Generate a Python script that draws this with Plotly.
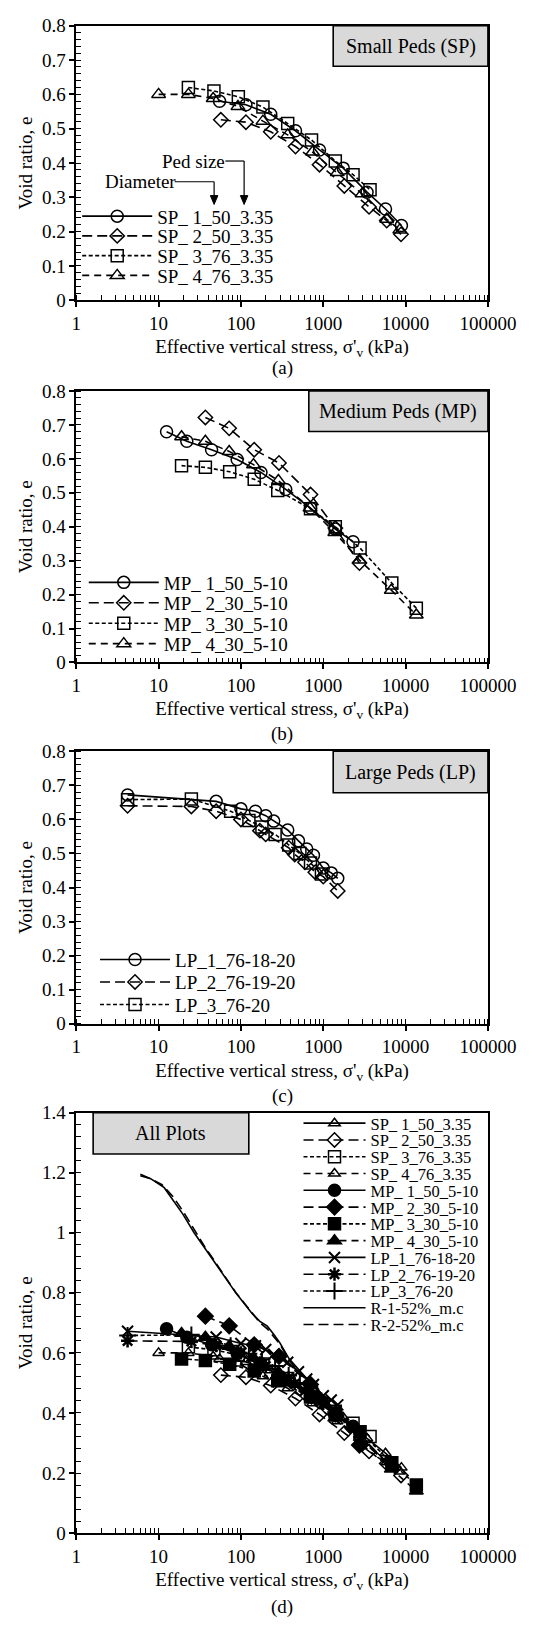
import plotly.graph_objects as go

W, H = 546, 1628
FONT = "Liberation Serif"

# ---------------- data ----------------
X_TICK_VALS = [1, 10, 100, 1000, 10000, 100000]
X_TICK_TEXT = ["1", "10", "100", "1000", "10000", "100000"]

# (a) Small Peds
SP1_X = [55, 115, 230, 460, 900, 1750, 3400, 5700, 8900]
SP1_E = [0.58, 0.57, 0.542, 0.494, 0.438, 0.385, 0.315, 0.266, 0.218]
SP2_X = [57, 115, 230, 460, 900, 1800, 3600, 5900, 8800]
SP2_E = [0.526, 0.519, 0.491, 0.448, 0.395, 0.333, 0.272, 0.232, 0.192]
SP3_X = [23, 47, 93, 185, 370, 720, 1400, 2300, 3700]
SP3_E = [0.62, 0.61, 0.593, 0.563, 0.515, 0.467, 0.406, 0.366, 0.322]
SP4_X = [10, 23, 46, 92, 185, 370, 740, 1480, 2960, 5900, 8500]
SP4_E = [0.60, 0.60, 0.588, 0.565, 0.522, 0.482, 0.432, 0.372, 0.31, 0.236, 0.205]

# (b) Medium Peds
MP1_X = [12.5, 22, 44, 90, 175, 350, 700, 1400, 2300]
MP1_E = [0.68, 0.652, 0.627, 0.598, 0.56, 0.51, 0.455, 0.393, 0.356]
MP2_X = [37, 72, 145, 290, 700, 1400, 2750]
MP2_E = [0.722, 0.69, 0.627, 0.588, 0.495, 0.396, 0.293]
MP3_X = [19, 37, 73, 145, 280, 700, 1400, 2800, 6800, 13500]
MP3_E = [0.58, 0.575, 0.562, 0.54, 0.507, 0.453, 0.40, 0.337, 0.234, 0.16]
MP4_X = [19, 37, 72, 142, 285, 690, 1380, 2750, 6700, 13500]
MP4_E = [0.665, 0.652, 0.622, 0.583, 0.536, 0.455, 0.383, 0.302, 0.213, 0.14]

# (c) Large Peds
LP1_X = [4.2, 50, 100, 150, 200, 250, 370, 500, 630, 760, 1000, 1250, 1500]
LP1_E = [0.672, 0.653, 0.631, 0.624, 0.611, 0.595, 0.569, 0.537, 0.513, 0.495, 0.457, 0.443, 0.427]
LP2_X = [4.2, 25, 50, 100, 170, 200, 380, 450, 600, 800, 1000, 1500]
LP2_E = [0.64, 0.638, 0.624, 0.60, 0.567, 0.556, 0.517, 0.497, 0.474, 0.445, 0.432, 0.39]
LP3_X = [4.2, 25, 75, 125, 180, 260, 380, 520, 700, 950]
LP3_E = [0.658, 0.66, 0.624, 0.597, 0.578, 0.556, 0.525, 0.50, 0.472, 0.44]

# (d) reference curves
R1_X = [6, 8, 11.7, 15, 19.7, 27, 36, 56, 87, 135, 170, 209, 250, 296, 385, 600, 1000, 2000, 4000, 8000]
R1_E = [1.195, 1.18, 1.15, 1.11, 1.062, 1.0, 0.952, 0.875, 0.799, 0.733, 0.705, 0.689, 0.662, 0.634, 0.58, 0.52, 0.45, 0.36, 0.28, 0.205]
R2_X = [6, 8, 11, 15, 20, 27, 36, 56, 87, 135, 170, 209, 250, 296, 385, 600, 1000, 2000, 4000, 8000]
R2_E = [1.19, 1.18, 1.16, 1.12, 1.07, 1.01, 0.955, 0.878, 0.80, 0.735, 0.70, 0.68, 0.655, 0.63, 0.575, 0.515, 0.445, 0.355, 0.275, 0.20]


# ---------------- layout helpers (page pixels -> paper) ----------------
def px(p):
    return p / W


def py(p):
    return 1 - p / H


PL, PR = 76, 515
PANELS = [(16, 294), (386, 661), (751, 1027), (1117, 1543)]

LONG = "10px,5px"
SHORT = "4px,2.5px"
MED = "7px,5px"

fig = go.Figure()
legend_specs = []  # (legend id, text-left px, row-centre px, font size, itemwidth)


def add(x, y, name, sym, dash, ax, leg, size=12, lw=1.6, mlw=1.5, mode="lines+markers"):
    lid = "legend" if not legend_specs else "legend%d" % (len(legend_specs) + 1)
    legend_specs.append((lid,) + leg)
    fig.add_trace(go.Scatter(
        x=x, y=y, name=name, mode=mode,
        line=dict(color="black", width=lw, dash=dash),
        marker=dict(symbol=sym, size=size, color="black",
                    line=dict(color="black", width=mlw)),
        xaxis="x" + ax, yaxis="y" + ax, legend=lid, showlegend=True,
    ))


def rows(tx, y0, dy, n, fs, iw):
    return [(tx, y0 + k * dy, fs, iw) for k in range(n)]


LA = rows(157, 209, 20, 4, 19, 70)
LB = rows(164, 580, 20.7, 4, 19, 70)
LC = rows(176, 962, 22.8, 3, 19, 70)
LD = rows(385, 1128, 17, 13, 16.5, 62)

# (a)
add(SP1_X, SP1_E, "SP_ 1_50_3.35", "circle-open", "solid", "", LA[0])
add(SP2_X, SP2_E, "SP_ 2_50_3.35", "diamond-open", LONG, "", LA[1], size=11)
add(SP3_X, SP3_E, "SP_ 3_76_3.35", "square-open", SHORT, "", LA[2])
add(SP4_X, SP4_E, "SP_ 4_76_3.35", "triangle-up-open", MED, "", LA[3])
# (b)
add(MP1_X, MP1_E, "MP_ 1_50_5-10", "circle-open", "solid", "2", LB[0])
add(MP2_X, MP2_E, "MP_ 2_30_5-10", "diamond-open", LONG, "2", LB[1], size=11)
add(MP3_X, MP3_E, "MP_ 3_30_5-10", "square-open", SHORT, "2", LB[2])
add(MP4_X, MP4_E, "MP_ 4_30_5-10", "triangle-up-open", MED, "2", LB[3])
# (c)
add(LP1_X, LP1_E, "LP_1_76-18-20", "circle-open", "solid", "3", LC[0])
add(LP2_X, LP2_E, "LP_2_76-19-20", "diamond-open", LONG, "3", LC[1], size=11)
add(LP3_X, LP3_E, "LP_3_76-20", "square-open", SHORT, "3", LC[2])
# (d)
add(SP1_X, SP1_E, "SP_ 1_50_3.35", "triangle-up-open", "solid", "4", LD[0], size=10)
add(SP2_X, SP2_E, "SP_ 2_50_3.35", "diamond-open", LONG, "4", LD[1], size=11)
add(SP3_X, SP3_E, "SP_ 3_76_3.35", "square-open", SHORT, "4", LD[2], size=12)
add(SP4_X, SP4_E, "SP_ 4_76_3.35", "triangle-up-open", MED, "4", LD[3], size=10)
add(MP1_X, MP1_E, "MP_ 1_50_5-10", "circle", "solid", "4", LD[4], size=12)
add(MP2_X, MP2_E, "MP_ 2_30_5-10", "diamond", LONG, "4", LD[5], size=12)
add(MP3_X, MP3_E, "MP_ 3_30_5-10", "square", SHORT, "4", LD[6], size=12)
add(MP4_X, MP4_E, "MP_ 4_30_5-10", "triangle-up", MED, "4", LD[7], size=12)
add(LP1_X, LP1_E, "LP_1_76-18-20", "x-thin-open", "solid", "4", LD[8], size=11, mlw=2)
add(LP2_X, LP2_E, "LP_2_76-19-20", "asterisk-open", LONG, "4", LD[9], size=11, mlw=2.5)
add(LP3_X, LP3_E, "LP_3_76-20", "cross-thin-open", SHORT, "4", LD[10], size=12, mlw=2)
add(R1_X, R1_E, "R-1-52%_m.c", None, "solid", "4", LD[11], mode="lines")
add(R2_X, R2_E, "R-2-52%_m.c", None, LONG, "4", LD[12], mode="lines")

tickfont = dict(family=FONT, size=19, color="black")
layout = dict(
    width=W, height=H, margin=dict(l=0, r=0, t=0, b=0),
    paper_bgcolor="white", plot_bgcolor="white",
    font=dict(family=FONT, size=19, color="black"),
)

YMAX = [0.8, 0.8, 0.8, 1.4]
YD = [0.1, 0.1, 0.1, 0.2]
YMINOR = [0.02, 0.02, 0.02, 0.04]
for i, (top, bot) in enumerate(PANELS):
    s = "" if i == 0 else str(i + 1)
    layout["xaxis" + s] = dict(
        type="log", range=[0, 5], domain=[px(PL), px(PR)], anchor="y" + s,
        tickmode="array", tickvals=X_TICK_VALS, ticktext=X_TICK_TEXT,
        ticks="outside", ticklen=5, tickwidth=1.5, tickcolor="black",
        showline=True, linewidth=1.6, linecolor="black", mirror=True,
        showgrid=False, zeroline=False, tickfont=tickfont,
        ticklabeloverflow="allow",
        minor=dict(ticks="inside", ticklen=5, tickwidth=1.2, tickcolor="black",
                   dtick="D1", showgrid=False),
        title=dict(text="Effective vertical stress, σ'<sub>v</sub> (kPa)",
                   font=dict(family=FONT, size=19, color="black"), standoff=7),
    )
    layout["yaxis" + s] = dict(
        range=[0, YMAX[i]], dtick=YD[i], tick0=0, domain=[py(bot), py(top)],
        anchor="x" + s,
        ticks="outside", ticklen=5, tickwidth=1.5, tickcolor="black",
        showline=True, linewidth=1.6, linecolor="black", mirror=True,
        showgrid=False, zeroline=False, tickfont=tickfont,
        ticklabeloverflow="allow",
        minor=dict(ticks="inside", ticklen=5, tickwidth=1.2, tickcolor="black",
                   dtick=YMINOR[i], tick0=0, showgrid=False),
        title=dict(text="Void ratio, e",
                   font=dict(family=FONT, size=19, color="black"), standoff=4),
    )

for lid, tx, ty, fs, iw in legend_specs:
    layout[lid] = dict(
        x=px(tx - iw - 10), y=py(ty), xanchor="left", yanchor="middle",
        bgcolor="rgba(255,255,255,0)", borderwidth=0, itemwidth=iw,
        font=dict(family=FONT, size=fs, color="black"),
    )

shapes = []
annotations = []

# title boxes: (x0, x1, y0, y1, text)
BOXES = [(350, PR, 16, 57, "Small Peds (SP)"),
         (324, PR, 386, 427, "Medium Peds (MP)"),
         (350, PR, 751, 793, "Large Peds (LP)"),
         (94, 260, 1117, 1159, "All Plots")]
for x0, x1, y0, y1, t in BOXES:
    shapes.append(dict(type="rect", xref="paper", yref="paper",
                       x0=px(x0), x1=px(x1), y0=py(y1), y1=py(y0),
                       fillcolor="#d9d9d9", line=dict(color="black", width=1.6),
                       layer="above"))
    annotations.append(dict(xref="paper", yref="paper", x=px((x0 + x1) / 2),
                            y=py((y0 + y1) / 2), text=t, showarrow=False,
                            xanchor="center", yanchor="middle",
                            font=dict(family=FONT, size=20, color="black")))

# panel letters
for (top, bot), lab, dy in zip(PANELS, ["(a)", "(b)", "(c)", "(d)"], [69, 72, 73, 75]):
    annotations.append(dict(xref="paper", yref="paper", x=px((PL + PR) / 2),
                            y=py(bot + dy), text=lab, showarrow=False,
                            xanchor="center", yanchor="middle",
                            font=dict(family=FONT, size=19, color="black")))

# "Ped size" and "Diameter" call-outs in (a): text, centre x, y, line x0, arrow x
CALL = [("Ped size", 201, 153, 235, 255), ("Diameter", 144, 174, 181, 223)]
TIP = 197
for t, cx, cy, lx0, lx1 in CALL:
    annotations.append(dict(xref="paper", yref="paper", x=px(cx), y=py(cy),
                            text=t, showarrow=False, xanchor="center",
                            yanchor="middle",
                            font=dict(family=FONT, size=19, color="black")))
    line = dict(color="black", width=1.2)
    shapes.append(dict(type="line", xref="paper", yref="paper",
                       x0=px(lx0), x1=px(lx1), y0=py(cy), y1=py(cy), line=line))
    shapes.append(dict(type="line", xref="paper", yref="paper",
                       x0=px(lx1), x1=px(lx1), y0=py(cy), y1=py(TIP - 6), line=line))
    path = "M %f %f L %f %f L %f %f Z" % (px(lx1 - 4), py(TIP - 9), px(lx1 + 4),
                                          py(TIP - 9), px(lx1), py(TIP))
    shapes.append(dict(type="path", xref="paper", yref="paper", path=path,
                       fillcolor="black", line=dict(color="black", width=1)))

layout["shapes"] = shapes
layout["annotations"] = annotations
fig.update_layout(**layout)

# remove the default 8px body margin so the 546x1628 figure fills the page exactly
PAGE_FIX = ("document.body.style.margin='0px';"
            "document.documentElement.style.overflow='hidden';"
            "document.body.style.overflow='hidden';")
fig.write_html("out.html", post_script=PAGE_FIX,
               config={"displayModeBar": False, "responsive": False})
